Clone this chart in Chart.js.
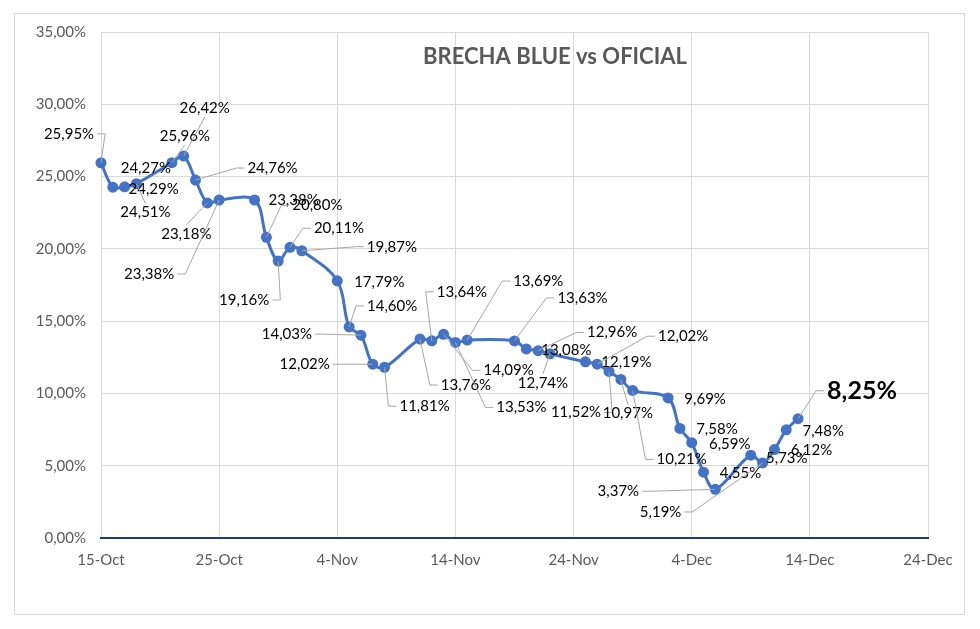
<!DOCTYPE html>
<html>
<head>
<meta charset="utf-8">
<title>Brecha blue vs oficial</title>
<script src="https://cdn.jsdelivr.net/npm/chart.js@4.4.1/dist/chart.umd.min.js"></script>
<style>
  html, body { margin: 0; padding: 0; background: #fff; }
  #wrap { width: 980px; height: 629px; }
</style>
</head>
<body>
<div id="wrap"><canvas id="brechaChart" width="980" height="629"></canvas></div>
<script>
// daily values (business days)
const dates = [
  '2024-10-15', '2024-10-16', '2024-10-17', '2024-10-18',
  '2024-10-21', '2024-10-22', '2024-10-23', '2024-10-24', '2024-10-25',
  '2024-10-28', '2024-10-29', '2024-10-30', '2024-10-31', '2024-11-01',
  '2024-11-04', '2024-11-05', '2024-11-06', '2024-11-07', '2024-11-08',
  '2024-11-11', '2024-11-12', '2024-11-13', '2024-11-14', '2024-11-15',
  '2024-11-19', '2024-11-20', '2024-11-21', '2024-11-22',
  '2024-11-25', '2024-11-26', '2024-11-27', '2024-11-28', '2024-11-29',
  '2024-12-02', '2024-12-03', '2024-12-04', '2024-12-05', '2024-12-06',
  '2024-12-09', '2024-12-10', '2024-12-11', '2024-12-12', '2024-12-13'
];
const brecha = [
  25.95, 24.27, 24.29, 24.51,
  25.96, 26.42, 24.76, 23.18, 23.38,
  23.38, 20.80, 19.16, 20.11, 19.87,
  17.79, 14.60, 14.03, 12.02, 11.81,
  13.76, 13.64, 14.09, 13.53, 13.69,
  13.63, 13.08, 12.96, 12.74,
  12.19, 12.02, 11.52, 10.97, 10.21,
  9.69, 7.58, 6.59, 4.55, 3.37,
  5.73, 5.19, 6.12, 7.48, 8.25
];
const xTickLabels = ['15-Oct', '25-Oct', '4-Nov', '14-Nov', '24-Nov', '4-Dec', '14-Dec', '24-Dec'];
const yTickLabels = ['0,00%', '5,00%', '10,00%', '15,00%', '20,00%', '25,00%', '30,00%', '35,00%'];

// where each data label sits relative to its point (px), like the moved excel labels
const labelOffsets = [
  [-32, -29], [33, -19], [29, 2], [9, 29],
  [13, -27], [21, -48], [77, -12], [-21, 31], [-70, 74],
  [39, 0], [51, -32], [-34, 39], [49, -19], [90, -4],
  [42, 1], [43, -21], [-74, -1], [-68, 0], [40, 39],
  [46, 46], [30, -49], [65, 36], [66, 65], [71, -59],
  [68, -43], [40, 1], [74, -18], [-7, 29],
  [41, 0], [86, -28], [-33, 41], [7, 34], [49, 69],
  [37, 1], [37, 1], [38, 1], [37, 1], [-97, 2],
  [36, 3], [-102, 49], [37, 1], [37, 1], [64, -28]
];

const startDay = Date.UTC(2024, 9, 15);
const dayNum = d => Math.round((Date.parse(d + 'T00:00:00Z') - startDay) / 86400000);
const points = dates.map((d, i) => ({ x: dayNum(d), y: brecha[i] }));
const fmtPct = v => v.toFixed(2).replace('.', ',') + '%';

const FONT = 'Lato, "Open Sans", sans-serif';

const frameAndTitle = {
  id: 'frameAndTitle',
  beforeDraw(chart) {
    const ctx = chart.ctx;
    ctx.save();
    ctx.fillStyle = '#fff';
    ctx.fillRect(0, 0, chart.width, chart.height);
    ctx.strokeStyle = '#d9d9d9';
    ctx.lineWidth = 1;
    ctx.strokeRect(14.5, 13.5, 950, 601);
    ctx.restore();
  },
  afterDraw(chart) {
    const ctx = chart.ctx;
    ctx.save();
    ctx.font = 'bold 22px ' + FONT;
    ctx.fillStyle = '#595959';
    ctx.textAlign = 'center';
    ctx.textBaseline = 'middle';
    ctx.fillText('BRECHA BLUE vs OFICIAL', 555, 57);
    ctx.restore();
  }
};

const leaderLabels = {
  id: 'leaderLabels',
  afterDatasetsDraw(chart) {
    const ctx = chart.ctx;
    const meta = chart.getDatasetMeta(0);
    const last = meta.data.length - 1;
    ctx.save();
    meta.data.forEach((el, i) => {
      const txt = fmtPct(brecha[i]);
      const big = i === last;
      ctx.font = (big ? 'bold 25px ' : '15px ') + FONT;
      const w = ctx.measureText(txt).width;
      const h = big ? 22 : 14;
      const cx = el.x + labelOffsets[i][0];
      const cy = el.y + labelOffsets[i][1];
      const l = cx - w / 2, r = cx + w / 2, t = cy - h / 2, b = cy + h / 2;
      const gx = Math.max(l - el.x, 0, el.x - r);
      const gy = Math.max(t - el.y, 0, el.y - b);
      if (Math.hypot(gx, gy) > 19.5) {
        ctx.strokeStyle = '#a6a6a6';
        ctx.lineWidth = 1;
        ctx.beginPath();
        if (el.x < l - 4) {
          ctx.moveTo(l - 3, cy);
          ctx.lineTo(l - 11, cy);
        } else if (el.x > r + 4) {
          ctx.moveTo(r + 3, cy);
          ctx.lineTo(r + 11, cy);
        } else {
          ctx.moveTo(cx, el.y < t ? t - 2 : b + 2);
        }
        ctx.lineTo(el.x, el.y);
        ctx.stroke();
      }
      ctx.fillStyle = '#000';
      ctx.textAlign = 'center';
      ctx.textBaseline = 'middle';
      ctx.fillText(txt, cx, cy);
    });
    ctx.restore();
  }
};

new Chart(document.getElementById('brechaChart').getContext('2d'), {
  type: 'line',
  data: {
    datasets: [
      {
        label: 'Brecha',
        data: points,
        borderColor: '#4472C4',
        backgroundColor: '#4472C4',
        borderWidth: 3,
        tension: 0.35,
        pointRadius: 5.5,
        pointBorderWidth: 0,
        pointBackgroundColor: '#4472C4',
        fill: false,
        clip: false
      }
    ]
  },
  options: {
    responsive: false,
    animation: false,
    layout: { padding: { left: 0, top: 32, right: 52, bottom: 0 } },
    plugins: {
      legend: { display: false },
      tooltip: { enabled: false },
      title: { display: false }
    },
    scales: {
      x: {
        type: 'linear',
        min: 0,
        max: 70,
        afterBuildTicks: s => { s.ticks = xTickLabels.map((_, i) => ({ value: i * 10 })); },
        afterFit: s => { s.height = 91; },
        ticks: {
          callback: (v, i) => xTickLabels[i],
          color: '#595959',
          font: { family: FONT, size: 15 },
          padding: 13,
          maxRotation: 0
        },
        grid: { color: '#d9d9d9', drawTicks: false },
        border: { color: '#1F3A78', width: 2 }
      },
      y: {
        min: 0,
        max: 35,
        afterBuildTicks: s => { s.ticks = yTickLabels.map((_, i) => ({ value: i * 5 })); },
        afterFit: s => { s.width = 101; },
        ticks: {
          callback: (v, i) => yTickLabels[i],
          color: '#595959',
          font: { family: FONT, size: 15 },
          padding: 15
        },
        grid: { color: '#d9d9d9', drawTicks: false },
        border: { display: false }
      }
    }
  },
  plugins: [frameAndTitle, leaderLabels]
});
</script>
</body>
</html>
